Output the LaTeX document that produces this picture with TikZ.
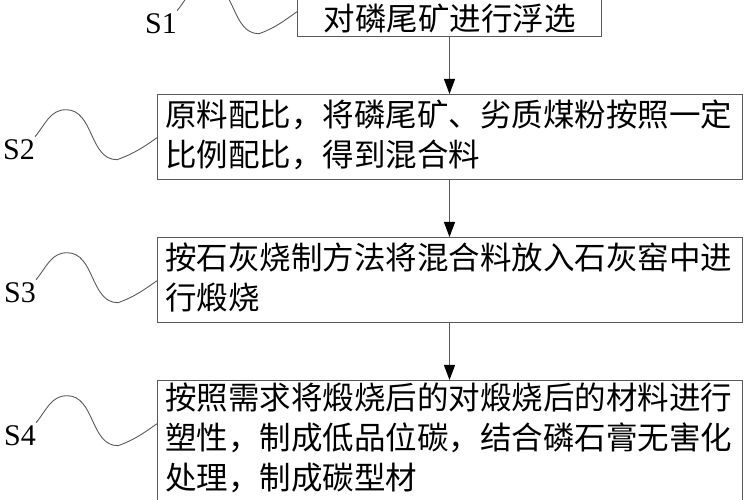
\documentclass[tikz,border=0pt]{standalone}
\usepackage{fontspec}
\setmainfont{Liberation Serif}
\newfontfamily\cjk{Noto Sans CJK SC}
\usetikzlibrary{arrows.meta}

\begin{document}
\begin{tikzpicture}[x=1pt, y=1pt,
    stepbox/.style={rectangle, draw=black!65, line width=1pt, anchor=north west, inner xsep=7.5pt, inner ysep=0pt, text width=570pt, align=left, font=\cjk\fontsize{31.5}{40}\selectfont},
    steplabel/.style={inner sep=0pt, font=\fontsize{30}{30}\selectfont},
    wave/.style={draw=black!65, line width=0.9pt},
    flow/.style={draw=black!65, line width=1pt, -{Triangle[length=15pt, width=11pt, color=black]}}]

    \useasboundingbox (0,0) rectangle (750,500);

    % Steps
    \node (S1)[stepbox, text width=289pt, align=center, text height=40pt, text depth=6pt] at (297, 510) {对磷尾矿进行浮选};
    \node (S2)[stepbox, text height=32pt, text depth=53pt] at (157, 406) {原料配比，将磷尾矿、劣质煤粉按照一定\\比例配比，得到混合料};
    \node (S3)[stepbox, text height=32pt, text depth=53pt] at (157, 263) {按石灰烧制方法将混合料放入石灰窑中进\\行煅烧};
    \node (S4)[stepbox, text height=29pt, text depth=101pt] at (157, 120) {按照需求将煅烧后的对煅烧后的材料进行\\塑性，制成低品位碳，结合磷石膏无害化\\处理，制成碳型材};

    % Step labels
    \node (L1)[steplabel] at (161, 476) {S1};
    \node (L2)[steplabel] at (19, 350) {S2};
    \node (L3)[steplabel] at (20, 207) {S3};
    \node (L4)[steplabel] at (20, 64) {S4};

    % Wavy leaders
    \draw[wave] ([yshift=3pt]L1.north east) to[out=50,in=180] ++(31,27) to[out=0,in=180] ++(51,-50) to[out=20,in=215] ([yshift=2pt]S1.west |- L1.north east);
    \draw[wave] ([yshift=3pt]L2.north east) to[out=50,in=180] ++(31,27) to[out=0,in=180] ++(51,-50) to[out=20,in=215] ([yshift=2pt]S2.west |- L2.north east);
    \draw[wave] ([yshift=3pt]L3.north east) to[out=50,in=180] ++(31,27) to[out=0,in=180] ++(51,-50) to[out=20,in=215] ([yshift=2pt]S3.west |- L3.north east);
    \draw[wave] ([yshift=3pt]L4.north east) to[out=50,in=180] ++(31,27) to[out=0,in=180] ++(51,-50) to[out=20,in=215] ([yshift=2pt]S4.west |- L4.north east);

    % Flow arrows
    \draw[flow] (S1.south) -- (S1.south |- S2.north);
    \draw[flow] (S2.south -| S1.south) -- (S1.south |- S3.north);
    \draw[flow] (S3.south -| S1.south) -- (S1.south |- S4.north);
\end{tikzpicture}
\end{document}
